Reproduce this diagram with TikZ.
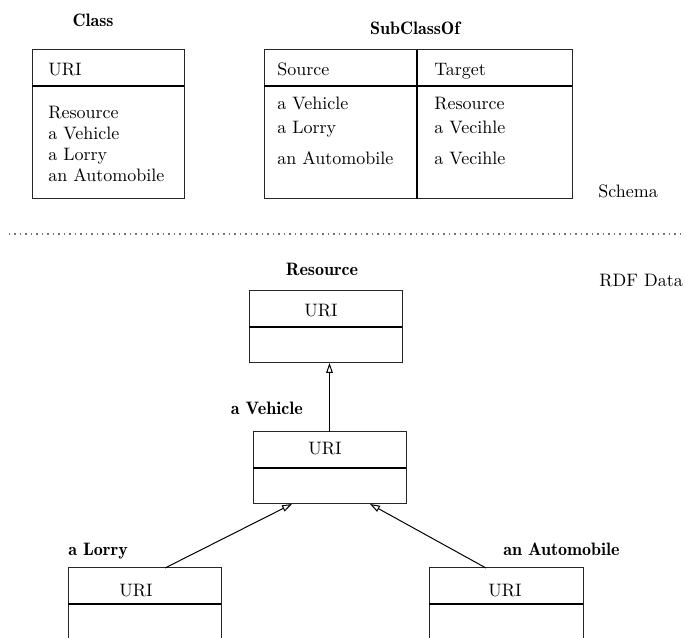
\documentclass[tikz,border=0pt]{standalone}
\usetikzlibrary{arrows.meta}
\begin{document}
\def\u{0.6pt}
\begin{tikzpicture}[x=0.6pt,y=-0.6pt,
  font=\fontsize{10.8}{13}\selectfont,
  box/.style={draw=black!85, line width=0.6pt, inner sep=0pt, outer sep=0pt},
  sepline/.style={draw=black, line width=0.8pt},
  txt/.style={inner sep=0pt, anchor=base west},
  ctxt/.style={inner sep=0pt, anchor=base},
  ttl/.style={inner sep=0pt, anchor=base, font=\fontsize{10.8}{13}\fontseries{b}\selectfont},
  isa/.style={draw=black, line width=0.6pt, -{Triangle[open, length=6pt, width=4pt]}},
  divider/.style={draw=black!55, line width=0.7pt, dash pattern=on 0.7pt off 2.6pt}]
\useasboundingbox (0,0) rectangle (686,638);
\clip (0,0) rectangle (686,638);

% ---- schema tables ----
\node[box, minimum width=152*\u, minimum height=149*\u] (classbox) at (108,124.5) {};
\draw[sepline] ([yshift=-36*\u]classbox.north west) -- ([yshift=-36*\u]classbox.north east);
\node[ttl] (classttl) at (93,27) {Class};
\node[txt] (classuri) at (48,76) {URI};
\node[txt] (c1) at (48,119) {Resource};
\node[txt] (c2) at (48,140) {a Vehicle};
\node[txt] (c3) at (48,161) {a Lorry};
\node[txt] (c4) at (48,182) {an Automobile};

\node[box, minimum width=308*\u, minimum height=149*\u] (subbox) at (418,124.5) {};
\draw[sepline] ([yshift=-36*\u]subbox.north west) -- ([yshift=-36*\u]subbox.north east);
\draw[sepline] ([xshift=153*\u]subbox.north west) -- ([xshift=153*\u]subbox.south west);
\node[ttl] (subttl) at (415,35) {SubClassOf};
\node[txt] (src) at (277,76) {Source};
\node[txt] (tgt) at (434,76) {Target};
\node[txt] (s1) at (277,110) {a Vehicle};
\node[txt] (s2) at (277,134) {a Lorry};
\node[txt] (s3) at (277,165) {an Automobile};
\node[txt] (t1) at (434,110) {Resource};
\node[txt] (t2) at (434,134) {a Vecihle};
\node[txt] (t3) at (434,165) {a Vecihle};

\node[txt] (schema) at (598,198) {Schema};
\coordinate (dl) at (9,234);
\coordinate (dr) at (681,234);
\draw[divider] (dl) -- (dr);
\node[txt] (rdf) at (599,287) {RDF Data};

% ---- instance boxes ----
\node[box, minimum width=153*\u, minimum height=72*\u] (res) at (325.5,327) {};
\draw[sepline] (res.west) -- (res.east);
\node[ttl] (resttl) at (322,276) {Resource};
\node[ctxt] (resuri) at (321,317) {URI};

\node[box, minimum width=153*\u, minimum height=72*\u] (veh) at (329.5,468) {};
\draw[sepline] (veh.west) -- (veh.east);
\node[ttl, anchor=base east] (vehttl) at (303,415) {a Vehicle};
\node[ctxt] (vehuri) at (325,455) {URI};

\node[box, minimum width=153*\u, minimum height=72*\u] (lorry) at (144.5,604) {};
\draw[sepline] (lorry.west) -- (lorry.east);
\node[ttl, anchor=base west] (lorryttl) at (68,556) {a Lorry};
\node[ctxt] (lorryuri) at (136,597) {URI};

\node[box, minimum width=154*\u, minimum height=72*\u] (auto) at (506,604) {};
\draw[sepline] (auto.west) -- (auto.east);
\node[ttl, anchor=base west] (autottl) at (503,556) {an Automobile};
\node[ctxt] (autouri) at (505,597) {URI};

% ---- subclass arrows ----
\draw[isa] (veh.north) -- (veh.north |- res.south);
\draw[isa] ([xshift=20.5*\u]lorry.north) -- ([xshift=-37.5*\u]veh.south);
\draw[isa] ([xshift=-20*\u]auto.north) -- ([xshift=40.5*\u]veh.south);
\end{tikzpicture}
\end{document}
